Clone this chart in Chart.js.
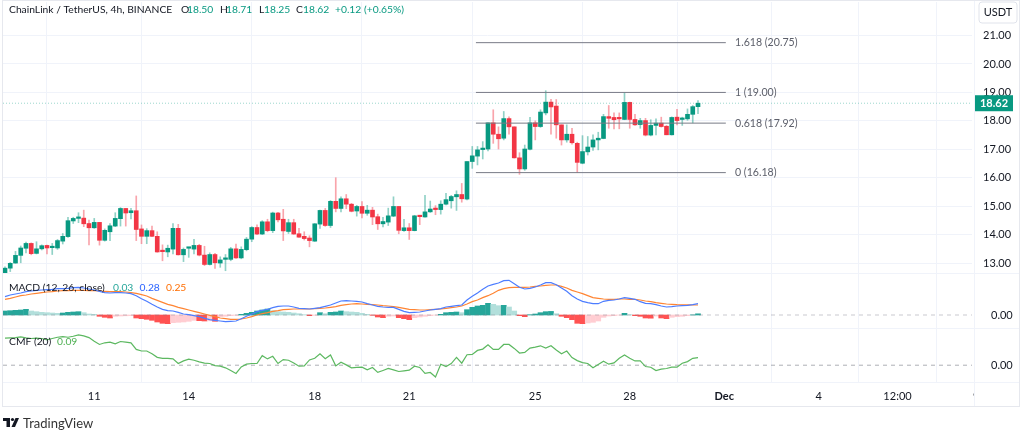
<!DOCTYPE html>
<html>
<head>
<meta charset="utf-8">
<title>ChainLink / TetherUS</title>
<script src="https://cdn.jsdelivr.net/npm/chart.js@4/dist/chart.umd.min.js"></script>
<style>
  html, body { margin: 0; padding: 0; background: #fff; }
  canvas { display: block; filter: blur(.35px); }
</style>
</head>
<body>
<canvas id="chart" width="1024" height="432"></canvas>
<script>
// 4h candles
const opens = [12.64,12.82,13.00,13.27,13.52,13.69,13.34,13.50,13.62,13.54,
  13.53,13.77,13.93,14.48,14.57,14.58,14.39,14.24,14.43,13.80,
  14.10,14.30,14.56,14.92,14.77,14.84,14.20,13.94,14.14,13.94,
  13.42,13.39,13.49,14.22,13.29,13.52,13.49,13.62,13.28,12.95,
  13.30,13.00,13.13,13.13,13.50,13.18,13.47,13.84,14.25,14.02,
  14.45,14.14,14.76,14.54,14.11,14.42,14.03,13.94,13.88,13.77,
  14.37,14.85,14.32,15.17,14.92,15.26,15.07,14.83,14.99,14.75,
  14.86,14.63,14.38,14.44,14.65,14.99,14.14,14.24,14.14,14.66,
  14.62,14.80,14.90,14.88,15.07,15.19,15.33,15.41,15.25,16.57,
  16.76,16.99,17.01,17.93,17.53,17.39,18.08,17.79,16.70,16.31,
  17.00,17.93,17.80,18.28,18.66,18.52,17.86,17.33,17.53,17.21,
  16.51,16.91,17.08,17.33,17.38,18.15,18.12,18.09,18.05,18.65,
  18.05,17.87,18.01,17.50,17.84,17.92,17.81,17.51,18.13,18.05,
  18.07,18.23,18.50];
const highs = [12.87,13.02,13.41,13.60,13.74,13.71,13.75,13.64,13.63,13.69,
  13.83,14.04,14.61,14.61,14.77,14.86,14.51,14.57,14.43,14.20,
  14.39,14.77,14.95,14.92,14.92,15.36,14.34,14.21,14.30,14.10,
  13.64,13.63,14.39,14.36,13.53,13.55,13.83,13.66,13.59,13.36,
  13.34,13.22,13.30,13.55,13.67,13.57,13.90,14.28,14.34,14.49,
  14.54,14.79,14.78,14.89,14.54,14.54,14.22,14.10,13.96,14.39,
  14.86,14.92,15.20,16.00,15.33,15.41,15.10,15.03,15.16,15.03,
  14.96,14.72,14.61,14.93,15.33,14.99,14.54,14.39,14.68,14.68,
  15.38,15.18,15.02,15.19,15.45,15.38,15.54,15.80,16.57,17.10,
  17.10,17.27,17.93,18.39,17.79,18.33,18.14,17.79,16.88,17.15,
  18.12,18.00,18.39,19.06,18.76,18.75,17.86,17.86,17.74,17.25,
  17.48,17.45,17.51,17.60,18.23,18.54,18.28,18.28,18.99,18.66,
  18.23,18.09,18.09,18.04,18.07,18.13,17.84,18.14,18.41,18.13,
  18.42,18.54,18.71];
const lows = [12.61,12.70,12.99,13.01,13.36,13.29,13.32,13.46,13.32,13.30,
  13.48,13.67,13.90,14.39,14.42,14.28,13.64,14.22,13.63,13.77,
  13.79,14.28,14.30,14.30,14.55,13.79,13.68,13.68,13.93,13.38,
  13.08,13.22,13.32,13.28,13.05,13.20,13.32,13.25,12.91,12.93,
  12.81,12.85,12.73,13.08,13.16,13.15,13.43,13.75,14.00,14.00,
  14.10,14.07,14.45,13.79,14.04,14.01,13.90,13.81,13.57,13.76,
  14.22,14.29,14.25,14.80,14.80,14.91,14.80,14.65,14.59,14.68,
  14.35,14.18,14.27,14.32,14.63,14.03,14.11,13.83,14.13,14.35,
  14.61,14.78,14.70,14.72,15.04,14.93,14.85,15.14,15.22,16.33,
  16.45,16.66,16.94,17.21,17.01,17.33,17.53,16.69,16.12,16.26,
  16.98,17.33,17.77,18.21,17.53,17.39,17.15,17.25,17.18,16.19,
  16.49,16.80,16.96,16.98,17.37,17.74,17.72,17.72,18.04,17.74,
  17.84,17.74,17.47,17.47,17.51,17.78,17.51,17.50,17.86,17.84,
  18.02,17.93,18.25];
const closes = [12.82,12.99,13.27,13.53,13.69,13.33,13.50,13.61,13.53,13.56,
  13.79,13.94,14.49,14.57,14.59,14.38,14.24,14.43,13.80,14.15,
  14.31,14.57,14.92,14.76,14.84,14.18,13.94,14.14,13.94,13.39,
  13.40,13.52,14.22,13.29,13.48,13.53,13.62,13.28,12.95,13.30,
  13.01,13.11,13.14,13.50,13.18,13.48,13.84,14.25,14.02,14.45,
  14.14,14.76,14.52,14.13,14.42,14.02,13.91,13.86,13.79,14.38,
  14.85,14.32,15.17,14.92,15.26,15.07,14.82,14.99,14.75,14.86,
  14.62,14.38,14.46,14.66,14.99,14.15,14.24,14.14,14.66,14.63,
  14.80,14.90,14.88,15.07,15.23,15.34,15.41,15.26,16.57,16.77,
  16.98,17.03,17.93,17.53,17.37,18.08,17.79,16.70,16.31,17.01,
  17.93,17.80,18.31,18.66,18.49,17.86,17.33,17.53,17.23,16.54,
  16.92,17.08,17.33,17.39,18.15,18.09,18.04,18.07,18.65,18.05,
  17.86,18.01,17.50,17.84,17.92,17.80,17.51,18.12,18.01,18.09,
  18.23,18.50,18.62];

// MACD (12, 26, close)
const macdLine = [.458,.500,.525,.550,.583,.600,.617,.625,.633,.642,
  .658,.658,.667,.683,.692,.675,.650,.625,.592,.558,
  .550,.558,.558,.550,.533,.483,.408,.342,.267,.200,
  .142,.108,.100,.067,.025,.008,-.017,-.042,-.083,-.117,
  -.133,-.150,-.167,-.158,-.150,-.092,-.033,.025,.083,.117,
  .142,.183,.217,.225,.225,.200,.167,.158,.150,.167,
  .183,.217,.250,.300,.350,.358,.350,.342,.325,.283,
  .250,.217,.200,.192,.192,.142,.092,.058,.067,.075,
  .100,.125,.142,.158,.200,.217,.233,.250,.375,.467,
  .550,.642,.725,.767,.800,.858,.867,.783,.692,.650,
  .667,.700,.750,.808,.808,.758,.675,.592,.483,.400,
  .342,.308,.283,.283,.342,.367,.375,.400,.433,.417,
  .392,.333,.292,.283,.258,.225,.200,.208,.225,.233,
  .242,.258,.283];
const signalLine = [.392,.417,.450,.483,.500,.525,.542,.558,.575,.583,
  .600,.608,.608,.617,.617,.617,.608,.608,.600,.592,
  .583,.583,.583,.575,.558,.542,.508,.475,.417,.367,
  .317,.267,.233,.192,.158,.125,.092,.058,.025,-.008,
  -.042,-.075,-.092,-.108,-.108,-.100,-.075,-.042,0,.033,
  .058,.092,.108,.133,.142,.150,.150,.150,.150,.158,
  .167,.175,.192,.208,.242,.258,.275,.283,.275,.267,
  .258,.250,.233,.225,.208,.192,.167,.142,.133,.125,
  .125,.133,.142,.150,.167,.183,.200,.225,.275,.333,
  .375,.433,.483,.542,.617,.658,.683,.692,.692,.692,
  .700,.717,.725,.742,.750,.750,.717,.675,.617,.575,
  .533,.483,.433,.417,.400,.392,.392,.400,.400,.392,
  .392,.375,.350,.333,.308,.292,.275,.267,.258,.255,
  .252,.250,.250];
const macdHist = [.100,.108,.117,.125,.142,.100,.083,.067,.058,.050,
  .042,.050,.067,.075,.083,.058,.025,.017,-.033,-.058,
  -.075,-.033,-.025,-.020,-.017,-.075,-.092,-.108,-.133,-.175,
  -.208,-.217,-.192,-.183,-.175,-.158,-.133,-.142,-.150,-.146,
  -.158,-.042,-.033,-.017,-.008,.017,.042,.067,.100,.125,
  .150,.108,.083,.075,.067,.050,.033,.008,-.017,-.008,
  .058,.033,.067,.075,.100,.083,.075,.067,.042,.017,
  -.008,-.050,-.067,-.033,-.025,-.067,-.092,-.117,-.067,-.050,
  -.033,-.017,-.004,.017,.058,.067,.075,.058,.133,.192,
  .225,.242,.292,.267,.233,.242,.200,.100,-.017,-.042,
  .008,.025,.058,.083,.090,.033,-.033,-.067,-.117,-.208,
  -.217,-.200,-.183,-.150,-.058,-.025,-.017,-.004,.042,.008,
  -.017,-.033,-.075,-.080,-.025,-.075,-.092,-.058,-.042,-.033,
  -.017,.004,.030];

// CMF (20)
const cmfLine = [.322,.325,.329,.337,.325,.318,.322,.318,.302,.318,
  .333,.341,.333,.345,.361,.349,.329,.286,.247,.267,
  .275,.255,.282,.275,.267,.188,.169,.169,.137,.094,
  .082,.082,.075,.020,.051,.071,.059,.039,.024,.020,
  -.004,-.012,-.031,-.063,-.098,-.020,.012,.020,.020,.114,
  .075,.106,.020,.067,.059,.027,-.012,-.008,.063,.082,
  .137,.078,.122,-.008,.035,.004,-.031,-.027,-.024,-.055,
  -.027,-.086,-.063,-.039,-.055,-.075,-.067,-.059,-.012,-.027,
  -.098,-.086,-.141,.012,-.016,.020,.094,.024,.125,.129,
  .176,.192,.243,.188,.188,.247,.247,.200,.145,.153,
  .204,.216,.231,.204,.231,.180,.137,.169,.090,.055,
  .031,.020,-.031,.008,.047,.012,.027,.082,.122,.082,
  .051,.051,-.016,-.024,-.063,-.047,-.039,-.024,-.024,.024,
  .043,.082,.090];

// Fib levels and their labels
const fibLevels = [20.75, 19.00, 17.92, 16.18];
const fibLabels = ['1.618 (20.75)', '1 (19.00)', '0.618 (17.92)', '0 (16.18)'];
const fibFrom = 89.7, fibTo = 137.3;

// axis ticks (x = candle number)
const priceTicks = [13, 14, 15, 16, 17, 18, 19, 20, 21];
const timeTicks = [17, 35, 59, 77, 101, 119, 137, 155, 170];
const timeLabels = ['11', '14', '18', '21', '25', '28', 'Dec', '4', '12:00'];
const monthTick = 137;
const cutTick = 185, cutLabel = '9';
const lastPrice = 18.62;

const GREEN = '#089981', RED = '#f23645';
const TEXT = '#131722';
const FONT = 'Lato, sans-serif';
const xMin = -0.38, xMax = 184.19;

const xy = (arr) => arr.map((y, i) => ({ x: i, y }));
const isUp = (i) => closes[i] >= opens[i];

function histColor(i) {
  const v = macdHist[i], prev = i ? macdHist[i - 1] : 0;
  if (v >= 0) return v >= prev ? '#26a69a' : '#b2dfdb';
  return v > prev ? '#ffcdd2' : '#ff5252';
}

function flatLine(y, from, to, color, yAxisID, dash) {
  return {
    type: 'line', yAxisID, data: [{ x: from, y }, { x: to, y }],
    borderColor: color, borderWidth: 1, borderDash: dash || [],
    pointRadius: 0, order: 1
  };
}

const datasets = [
  // wicks
  {
    type: 'bar', yAxisID: 'y', grouped: false, order: 5, barThickness: 1,
    data: opens.map((_, i) => ({ x: i, y: [lows[i], highs[i]] })),
    backgroundColor: opens.map((_, i) => isUp(i) ? 'rgba(8,153,129,.45)' : 'rgba(242,54,69,.45)')
  },
  // bodies
  {
    type: 'bar', yAxisID: 'y', grouped: false, order: 4, barThickness: 4, minBarLength: 1.5,
    data: opens.map((_, i) => ({ x: i, y: [opens[i], closes[i]] })),
    backgroundColor: opens.map((_, i) => isUp(i) ? GREEN : RED)
  },
  {
    type: 'bar', yAxisID: 'yMacd', grouped: false, order: 6, barThickness: 5,
    data: xy(macdHist),
    backgroundColor: macdHist.map((_, i) => histColor(i))
  },
  { type: 'line', yAxisID: 'yMacd', data: xy(signalLine), borderColor: '#ff8533', borderWidth: 1.2, pointRadius: 0, order: 2 },
  { type: 'line', yAxisID: 'yMacd', data: xy(macdLine), borderColor: '#4d7dff', borderWidth: 1.2, pointRadius: 0, order: 1 },
  { type: 'line', yAxisID: 'yCmf', data: xy(cmfLine), borderColor: '#5cb860', borderWidth: 1.2, pointRadius: 0, order: 1 },
  flatLine(0, xMin, xMax, 'rgba(120,123,134,.6)', 'yCmf', [4, 4]),
  flatLine(0, xMin, xMax, 'rgba(120,123,134,.4)', 'yMacd', [4, 4]),
  flatLine(lastPrice, xMin, xMax, 'rgba(8,153,129,.4)', 'y', [1, 2])
].concat(fibLevels.map((lv) => flatLine(lv, fibFrom, fibTo, '#787b86', 'y')));

// panel frame, separators, legends, price tag, logo
const paneDecor = {
  id: 'paneDecor',
  beforeDraw(chart) {
    const { ctx, scales } = chart;
    ctx.save();
    ctx.strokeStyle = '#e6e8ee';
    ctx.lineWidth = 1;
    ctx.strokeRect(2.5, 0.5, 1017, 406);
    ctx.strokeStyle = '#f0f3fa';
    ctx.beginPath();
    for (const y of [scales.y.bottom, scales.yMacd.bottom, scales.yCmf.bottom]) {
      ctx.moveTo(3, Math.round(y) + 0.5);
      ctx.lineTo(1019, Math.round(y) + 0.5);
    }
    ctx.moveTo(974.5, 1);
    ctx.lineTo(974.5, 406);
    ctx.stroke();
    ctx.restore();
  },
  afterDraw(chart) {
    const { ctx, scales } = chart;
    const text = (str, x, y, color, font, align) => {
      ctx.fillStyle = color;
      ctx.font = font || `10.3px ${FONT}`;
      ctx.textAlign = align || 'left';
      ctx.textBaseline = 'middle';
      ctx.fillText(str, x, y);
    };
    ctx.save();

    // header
    text('ChainLink / TetherUS, 4h, BINANCE', 9, 10, TEXT);
    text('O', 181, 10, TEXT); text('18.50', 187, 10, GREEN);
    text('H', 220, 10, TEXT); text('18.71', 226, 10, GREEN);
    text('L', 259, 10, TEXT); text('18.25', 264, 10, GREEN);
    text('C', 296, 10, TEXT); text('18.62', 303, 10, GREEN);
    text('+0.12 (+0.65%)', 335, 10, GREEN);

    // indicator legends
    text('MACD (12, 26, close)', 9, 288, TEXT);
    text('0.03', 113, 288, '#26a69a');
    text('0.28', 139.5, 288, '#2962ff');
    text('0.25', 166, 288, '#ff6d00');
    text('CMF (20)', 9, 342, TEXT);
    text('0.09', 57, 342, '#4caf50');

    // fib labels
    fibLevels.forEach((lv, i) => text(fibLabels[i], 735, scales.y.getPixelForValue(lv), '#5d606b', `10.6px ${FONT}`));

    // time label cut off by the price axis
    ctx.save();
    ctx.beginPath();
    ctx.rect(0, 383, 974, 24);
    ctx.clip();
    text(cutLabel, scales.x.getPixelForValue(cutTick), 396, TEXT, `11px ${FONT}`, 'center');
    ctx.restore();

    // last price tag
    const tagY = scales.y.getPixelForValue(lastPrice);
    ctx.fillStyle = GREEN;
    ctx.fillRect(975, tagY - 8, 38, 16);
    text(lastPrice.toFixed(2), 994, tagY, '#fff', `bold 11px ${FONT}`, 'center');

    // currency button
    ctx.fillStyle = '#fff';
    ctx.strokeStyle = '#e0e3eb';
    ctx.beginPath();
    ctx.roundRect(979, 2, 38, 21, 3);
    ctx.fill();
    ctx.stroke();
    text('USDT', 998, 12.5, TEXT, `11px ${FONT}`, 'center');

    // TradingView mark
    ctx.fillStyle = '#131722';
    ctx.fillRect(3, 418, 7, 3);
    ctx.fillRect(6.5, 418, 3.5, 9);
    ctx.beginPath();
    ctx.arc(12.5, 419.5, 1.6, 0, Math.PI * 2);
    ctx.fill();
    ctx.beginPath();
    ctx.moveTo(15.5, 418); ctx.lineTo(19, 418); ctx.lineTo(15, 427); ctx.lineTo(11.5, 427);
    ctx.closePath();
    ctx.fill();
    text('TradingView', 23, 424, '#333', `13px ${FONT}`);
    ctx.restore();
  }
};

// y axes all keep the same width and add no padding to the chart area
function fitPriceAxis(axis) {
  axis.width = 48;
  axis.paddingTop = 0;
  axis.paddingBottom = 0;
}

const zeroOnlyAxis = {
  display: true, position: 'right', stack: 'panes',
  grid: { display: false }, border: { display: false },
  ticks: { padding: 11, color: TEXT, font: { family: FONT, size: 11 }, callback: (v) => Number(v).toFixed(2) },
  afterFit: fitPriceAxis,
  afterBuildTicks(axis) { axis.ticks = [{ value: 0 }]; }
};

new Chart(document.getElementById('chart').getContext('2d'), {
  data: { datasets },
  plugins: [paneDecor],
  options: {
    responsive: false,
    animation: false,
    devicePixelRatio: 1,
    layout: { padding: { top: 2, left: 3, right: 4, bottom: 25 } },
    plugins: { legend: { display: false }, tooltip: { enabled: false } },
    scales: {
      x: {
        type: 'linear', min: xMin, max: xMax, offset: false,
        grid: { color: '#f0f3fa', drawTicks: false },
        border: { display: false },
        afterBuildTicks(axis) { axis.ticks = timeTicks.map((value) => ({ value })); },
        afterFit(axis) {
          axis.height = 25;
          axis.paddingLeft = 0;
          axis.paddingRight = 0;
        },
        ticks: {
          autoSkip: false, maxRotation: 0, padding: 8, color: TEXT,
          font: (ctx) => ({ family: FONT, size: 11, weight: ctx.tick && ctx.tick.value === monthTick ? 'bold' : 'normal' }),
          callback: (v) => timeLabels[timeTicks.indexOf(v)]
        }
      },
      y: {
        position: 'right', stack: 'panes', stackWeight: 271, min: 12.65, max: 22.18,
        grid: { color: '#f0f3fa', drawTicks: false },
        border: { display: false },
        afterBuildTicks(axis) { axis.ticks = priceTicks.map((value) => ({ value })); },
        afterFit: fitPriceAxis,
        ticks: { padding: 11, color: TEXT, font: { family: FONT, size: 11 }, callback: (v) => Number(v).toFixed(2) }
      },
      yMacd: Object.assign({}, zeroOnlyAxis, { stackWeight: 55, min: -0.325, max: 1.05 }),
      yCmf: Object.assign({}, zeroOnlyAxis, { stackWeight: 54, min: -0.2, max: 0.443 })
    }
  }
});
</script>
</body>
</html>
